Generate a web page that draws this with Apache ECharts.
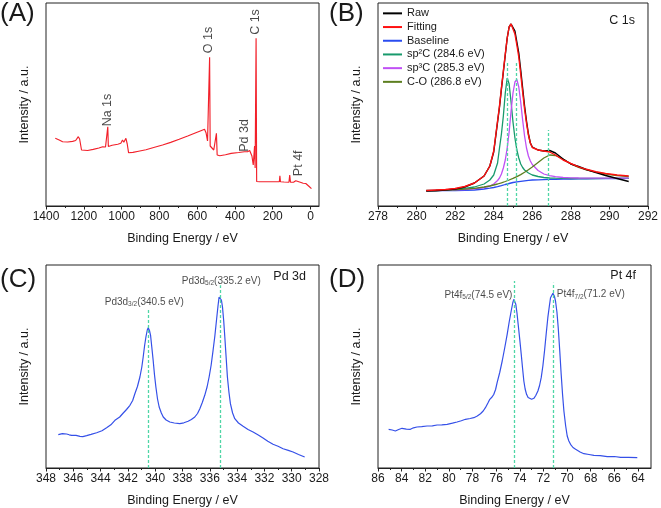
<!DOCTYPE html>
<html>
<head>
<meta charset="utf-8">
<script src="https://cdn.jsdelivr.net/npm/echarts@6/dist/echarts.min.js"></script>
<style>html,body{margin:0;padding:0;background:#fff}#c{width:661px;height:508px}</style>
</head>
<body>
<div id="c"></div>
<script>
// ---------- Panel A: survey ----------
const aPoints = [[1351,67.7],[1330,66],[1312,64.3],[1285,64],[1259,64.6],[1243,65.5],[1229,69.3],[1222,67],[1212,56],[1205,55],[1180,55.5],[1150,56.6],[1120,58],[1100,59.3],[1092,61],[1085,59],[1076,59.8],[1073,79.3],[1070,59.5],[1050,60.8],[1020,61.8],[1004,62.7],[995,66],[988,63.7],[977,67.7],[970,62],[963,53.3],[940,53.6],[910,54.8],[871,56.3],[830,58.5],[783,61],[740,63.6],[695,66.7],[650,70],[607,73.3],[580,75.3],[561,76.7],[553,73.3],[545,65],[538,63.3],[534,148.7],[531,60],[525,59],[512,56],[503,55.3],[498,72.7],[494,51],[480,50.3],[450,51.2],[420,52.6],[380,53.5],[350,54.3],[340,56],[333,54.3],[322,55.5],[317,56.7],[310,50],[303,41],[299,39.3],[296,60],[293,38],[290,37.7],[288,167.7],[285,24.5],[270,24.3],[230,24.2],[190,24.3],[165,24.2],[162,30.3],[159,24.3],[140,24],[114,23.7],[110,31],[106,23.8],[90,23.8],[78,25.3],[70,24],[50,23.5],[39,22.7],[33,23.8],[25,22.5],[10,20],[-5,17.3]];
const aPeakNames = ['Na 1s','O 1s','C 1s','Pd 3d','Pt 4f'];
const aPeakE = [1072, 538, 291, 347, 65];
const aPeakH = [96, 166, 184, 70.5, 42.7];
const aMajorTicks = [0,200,400,600,800,1000,1200,1400];
const aMinorTicks = [100,300,500,700,900,1100,1300];

// ---------- Panel B: C 1s ----------
const bEnergy = [280.5,281,281.5,282,282.5,283,283.5,283.8,284.0,284.2,284.3,284.4,284.5,284.6,284.7,284.8,284.9,285.0,285.1,285.2,285.3,285.4,285.5,285.6,285.7,285.8,285.9,286.0,286.3,286.6,286.9,287.2,287.6,288.0,288.4,288.8,289.3,289.8,290.4,291.0];
const bRaw = [15,15.3,16,17,19,23,30,40,54,84,99,117,134,151,168,179,182,181,175,164,153,136,118,100,85,72,63,59,56,55,55.5,53,47,42,39.5,36.5,33.5,30.5,27.5,24.5];
const bFitting = [15.5,16,16.5,17.5,19.5,23,30,40,55,85,100,118,135,152,168,179,182,180,172,161,149,132,114,97,83,71,63,58.5,56,55,54,51,46,42.5,39.2,36.7,34.2,32.5,31,30];
const bBaseline = [15.3,15.3,15.4,15.5,15.7,16,17,17.8,18.5,19.3,19.8,20.3,21,21.5,22,22.5,23,23.5,23.8,24.1,24.4,24.7,25,25.2,25.4,25.6,25.8,26,26.2,26.4,26.6,26.7,26.9,27,27.1,27.2,27.3,27.4,27.5,27.6];
const bSp2 = [15.5,15.8,16.2,16.8,17.6,19,22,26,31,43,58,72,90,113,128,122,104,84,68,56,48,42,38.5,36,34.3,33,32,31,29.5,28.5,28,27.8,27.6,27.5,27.5,27.5,27.5,27.6,27.6,27.7];
const bSp3 = [15.4,15.6,15.8,16.1,16.5,17.2,18.5,20,22,25.5,28,32,38,46,58,74,95,113,124,126.5,119,104,86,70,58,50,45,41.5,35.5,32,30.3,29.3,28.5,28.2,28,27.9,27.9,27.9,27.9,27.9];
const bCO = [15.3,15.5,15.8,16.2,16.8,17.7,19,20,21,22,22.6,23.2,23.8,24.5,25.2,26,26.8,27.6,28.5,29.4,30.4,31.4,32.5,33.7,35,36.3,37.7,39,43.5,48,51,50.5,47,42,38.7,36.2,33.8,32,30.5,29.5];
const bGuideE = [284.72, 285.16, 286.81];
const bGuideTop = [144, 144, 76];

// ---------- Panel C: Pd 3d ----------
const cPoints = [[347.1,33.3],[346.8,34.3],[346.49,34],[346.3,33.2],[346.12,32.7],[345.8,32.6],[345.51,31.7],[345.3,31.4],[345.02,32.3],[344.7,33.6],[344.29,35.3],[343.9,37.3],[343.56,40.3],[343.25,43.2],[342.95,47.7],[342.6,51],[342.34,55],[342.1,58.5],[341.85,62.7],[341.65,67.5],[341.49,74.3],[341.3,81.5],[341.12,91],[340.98,101],[340.88,111],[340.78,122],[340.68,131],[340.58,138],[340.51,140.3],[340.42,137.5],[340.34,132.7],[340.25,121],[340.15,107.7],[340.05,93],[339.95,81],[339.83,69],[339.71,61],[339.55,55],[339.41,51],[339.2,48],[338.93,46],[338.6,45],[338.2,44.3],[337.9,45.2],[337.59,46.7],[337.35,48.5],[337.1,51],[336.9,54.5],[336.73,59.3],[336.55,65.5],[336.37,72.7],[336.2,81],[336.05,91],[335.9,103],[335.76,117.7],[335.63,132],[335.51,147.7],[335.4,162],[335.32,171],[335.22,171.7],[335.15,168],[335.07,161],[334.98,147],[334.9,131],[334.8,110],[334.71,91],[334.6,76],[334.49,64.3],[334.33,55],[334.17,49.3],[333.9,45],[333.56,41.7],[333.2,38.5],[332.83,36],[332.45,33],[332.1,30],[331.75,26.8],[331.37,23.7],[331.0,21.8],[330.63,19.3],[330.25,17.6],[329.9,16],[329.5,13.5],[329.05,11]];
const cGuideE = [340.51, 335.27];
const cGuideTop = [159, 182.7];
const cLabelText = ['Pd3d{s|3/2}(340.5 eV)', 'Pd3d{s|5/2}(335.2 eV)'];
const cLabelE = [340.8, 335.16];
const cLabelH = [166, 187];

// ---------- Panel D: Pt 4f ----------
const dPoints = [[85.1,38.7],[84.8,38],[84.53,37],[84.25,38.5],[83.97,39.7],[83.6,38.9],[83.26,38.7],[83.0,40.2],[82.7,41],[82.3,41.3],[81.85,42],[81.4,42.2],[81.0,43],[80.6,43.1],[80.15,43.7],[79.7,44.8],[79.31,46],[78.95,47.3],[78.6,48.7],[78.2,49.5],[77.89,50.3],[77.6,52],[77.33,54.3],[77.1,57],[76.91,60.3],[76.7,65],[76.54,68.7],[76.35,71],[76.2,73.7],[76.05,78.5],[75.92,85.3],[75.7,95.5],[75.49,107],[75.28,120],[75.07,133.7],[74.9,146],[74.73,157],[74.6,165],[74.51,168.7],[74.42,167],[74.34,163.7],[74.24,155],[74.14,143.7],[74.0,128],[73.88,113.7],[73.77,100],[73.66,87],[73.55,79],[73.43,73.7],[73.3,70.5],[73.15,68.7],[73.0,68.7],[72.81,69.7],[72.65,72.5],[72.47,77],[72.33,82.5],[72.19,90.3],[72.05,102],[71.91,117],[71.77,134],[71.63,150.3],[71.5,162],[71.4,170.3],[71.2,174.7],[71.08,172],[70.98,167],[70.86,156],[70.75,140.3],[70.62,117],[70.5,93.7],[70.38,73],[70.27,57],[70.12,42],[69.99,32],[69.85,27],[69.71,23.7],[69.5,20.5],[69.28,18.7],[68.9,16],[68.58,14.3],[68.15,13.5],[67.73,12.7],[67.2,12.3],[66.6,11.3],[66.0,11.5],[65.47,10.7],[64.8,10.6],[64.06,10.3]];
const dGuideE = [74.51, 71.2];
const dGuideTop = [187, 185.3];
const dLabelText = ['Pt4f{s|5/2}(74.5 eV)', 'Pt4f{s|7/2}(71.2 eV)'];
const dLabelE = [77.5, 68.0];
const dLabelH = [173, 173.7];
const dMajorTicks = [64,66,68,70,72,74,76,78,80,82,84,86];
const dMinorTicks = [65,67,69,71,73,75,77,79,81,83,85];

// ---------- build ----------
const FONT = 'Liberation Sans, Arial, sans-serif';
const TXT = '#1a1a1a';
const GUIDE = '#4fd6a6';
const grids = [
  {left: 46, top: 3, width: 273, height: 203},
  {left: 378, top: 3, width: 272, height: 203},
  {left: 46, top: 265, width: 273, height: 203},
  {left: 378, top: 265, width: 273, height: 203}
].map(g => Object.assign(g, {show: true, borderColor: '#222', borderWidth: 1, backgroundColor: 'transparent', containLabel: false}));

const plainLabel = v => String(v);
function xBase(gi, extra) {
  return Object.assign({
    type: 'value', gridIndex: gi, position: 'bottom',
    name: 'Binding Energy / eV', nameLocation: 'middle', nameGap: 26,
    nameTextStyle: {fontSize: 12.5, color: TXT, fontFamily: FONT},
    axisLine: {show: true, onZero: false, lineStyle: {color: '#222', width: 1}},
    axisTick: {show: true, inside: false, length: 3.5, lineStyle: {color: '#222'}},
    minorTick: {show: true, splitNumber: 2, length: 2, lineStyle: {color: '#222'}},
    axisLabel: {fontSize: 12, color: TXT, fontFamily: FONT, margin: 5, formatter: plainLabel},
    splitLine: {show: false}, minorSplitLine: {show: false}
  }, extra);
}
function xMinor(gi, min, max, ticks) {
  return {
    type: 'value', gridIndex: gi, position: 'bottom', min: min, max: max, inverse: true,
    axisLine: {show: false, onZero: false},
    axisTick: {show: true, length: 2, customValues: ticks, lineStyle: {color: '#222'}},
    axisLabel: {show: false}, splitLine: {show: false}
  };
}
const xAxes = [
  xBase(0, {min: -45, max: 1400, inverse: true, minorTick: {show: false},
    axisTick: {show: true, length: 3.5, customValues: aMajorTicks, lineStyle: {color: '#222'}},
    axisLabel: {fontSize: 12, color: TXT, fontFamily: FONT, margin: 5, customValues: aMajorTicks, formatter: plainLabel}}),
  xBase(1, {min: 278, max: 292, interval: 2}),
  xBase(2, {min: 328, max: 348, interval: 2, inverse: true}),
  xBase(3, {min: 62.9, max: 86, inverse: true, minorTick: {show: false},
    axisTick: {show: true, length: 3.5, customValues: dMajorTicks, lineStyle: {color: '#222'}},
    axisLabel: {fontSize: 12, color: TXT, fontFamily: FONT, margin: 5, customValues: dMajorTicks, formatter: plainLabel}}),
  xMinor(0, -45, 1400, aMinorTicks),
  xMinor(3, 62.9, 86, dMinorTicks)
];
const yAxes = [0,1,2,3].map(gi => ({
  type: 'value', gridIndex: gi, min: 0, max: 203,
  name: 'Intensity / a.u.', nameLocation: 'middle', nameGap: 15,
  nameTextStyle: {fontSize: 12.5, color: TXT, fontFamily: FONT},
  axisLine: {show: false}, axisTick: {show: false}, axisLabel: {show: false}, splitLine: {show: false}
}));

function lineSeries(name, gi, data, color, width, z) {
  return {name: name, type: 'line', xAxisIndex: gi, yAxisIndex: gi, data: data, symbol: 'none', showSymbol: false,
    lineStyle: {color: color, width: width}, itemStyle: {color: color}, z: z || 2, silent: true, animation: false};
}
function guides(es, tops) {
  return {symbol: 'none', silent: true, animation: false, label: {show: false},
    lineStyle: {color: GUIDE, type: [3, 2], width: 1.3},
    data: es.map((e, i) => [{coord: [e, 0]}, {coord: [e, tops[i]]}])};
}
const zipB = arr => bEnergy.map((e, i) => [e, arr[i]]);

const sA = lineSeries('survey', 0, aPoints, '#f2202a', 1.15, 2);
const sAlab = {type: 'scatter', xAxisIndex: 0, yAxisIndex: 0, symbolSize: 0, silent: true, animation: false,
  data: aPeakNames.map((n, i) => ({name: n, value: [aPeakE[i], aPeakH[i]]})),
  label: {show: true, position: 'inside', rotate: 90, formatter: '{b}', fontSize: 12.5, color: TXT, fontFamily: FONT}};

const sBraw = lineSeries('Raw', 1, zipB(bRaw), '#000000', 1.4, 3);
const sBfit = lineSeries('Fitting', 1, zipB(bFitting), '#ff1010', 1.4, 4);
const sBbase = lineSeries('Baseline', 1, zipB(bBaseline), '#2a4cf0', 1.3, 3);
sBbase.markLine = guides(bGuideE, bGuideTop);
const sBsp2 = lineSeries('sp²C (284.6 eV)', 1, zipB(bSp2), '#189a6c', 1.3, 3);
const sBsp3 = lineSeries('sp³C (285.3 eV)', 1, zipB(bSp3), '#c050f5', 1.3, 3);
const sBco = lineSeries('C-O (286.8 eV)', 1, zipB(bCO), '#5d7f20', 1.3, 3);

const richSub = {s: {fontSize: 6.5, fontFamily: FONT, color: TXT, verticalAlign: 'bottom', lineHeight: 12}};
const sC = lineSeries('Pd', 2, cPoints, '#3550e8', 1.2, 3);
sC.markLine = guides(cGuideE, cGuideTop);
const sClab = {type: 'scatter', xAxisIndex: 2, yAxisIndex: 2, symbolSize: 0, silent: true, animation: false,
  data: cLabelText.map((t, i) => ({name: t, value: [cLabelE[i], cLabelH[i]]})),
  label: {show: true, position: 'inside', formatter: '{b}', fontSize: 10, lineHeight: 12, color: TXT, fontFamily: FONT, rich: richSub}};
const sD = lineSeries('Pt', 3, dPoints, '#3550e8', 1.2, 3);
sD.markLine = guides(dGuideE, dGuideTop);
const sDlab = {type: 'scatter', xAxisIndex: 3, yAxisIndex: 3, symbolSize: 0, silent: true, animation: false,
  data: dLabelText.map((t, i) => ({name: t, value: [dLabelE[i], dLabelH[i]]})),
  label: {show: true, position: 'inside', formatter: '{b}', fontSize: 10, lineHeight: 12, color: TXT, fontFamily: FONT, rich: richSub}};

function txt(t, x, y, size, align) {
  return {type: 'text', x: x, y: y, silent: true,
    style: {text: t, fontSize: size, fontFamily: FONT, fill: TXT, align: align || 'left', verticalAlign: 'middle'}};
}

const option = {
  animation: false,
  backgroundColor: '#ffffff',
  grid: grids,
  xAxis: xAxes,
  yAxis: yAxes,
  legend: {
    data: ['Raw', 'Fitting', 'Baseline', 'sp²C (284.6 eV)', 'sp³C (285.3 eV)', 'C-O (286.8 eV)'],
    orient: 'vertical', left: 383, top: 6.5, padding: 0,
    icon: 'rect', itemWidth: 19, itemHeight: 2, itemGap: 0,
    textStyle: {fontSize: 11, color: TXT, fontFamily: FONT, lineHeight: 13.7},
    selectedMode: false
  },
  graphic: [
    txt('(A)', 0, 14, 26), txt('(B)', 329, 14, 26),
    txt('(C)', 0, 280, 26), txt('(D)', 329, 280, 26),
    txt('C 1s', 635, 21, 12.5, 'right'),
    txt('Pd 3d', 306, 277, 12.5, 'right'),
    txt('Pt 4f', 636, 276, 12.5, 'right')
  ],
  series: [sA, sAlab, sBbase, sBsp2, sBsp3, sBco, sBraw, sBfit, sC, sClab, sD, sDlab]
};
const chart = echarts.init(document.getElementById('c'), null, {renderer: 'canvas'});
chart.setOption(option);
</script>
</body>
</html>
